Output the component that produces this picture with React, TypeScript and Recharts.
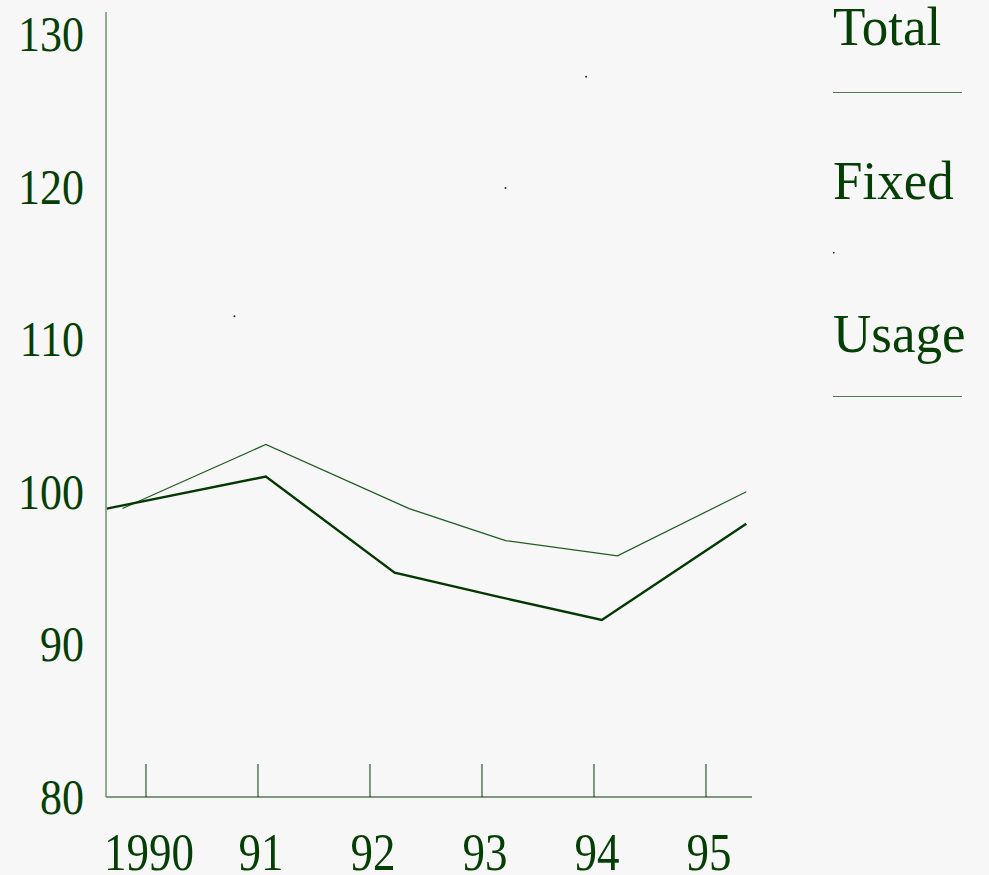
import { LineChart, Line, XAxis, YAxis, Legend } from "recharts";

// index values (1990 = 100), x in fractional years
const totalYears = [1989.79, 1991.07, 1992.35, 1993.21, 1994.21, 1995.36];
const totalValues = [98.9, 103.1, 98.9, 96.8, 95.8, 100.0];
const fixedYears = [1990.79, 1993.21, 1993.93];
const fixedValues = [111.5, 119.9, 127.2];
const usageYears = [1989.65, 1991.07, 1992.22, 1993.16, 1994.07, 1995.36];
const usageValues = [98.9, 101.0, 94.7, 93.1, 91.6, 97.9];

const yearTicks = [1990, 1991, 1992, 1993, 1994, 1995];
const valueTicks = [80, 90, 100, 110, 120, 130];
const seriesNames = ["Total", "Fixed", "Usage"];

const totalData = totalYears.map((year, i) => ({ year, value: totalValues[i] }));
const fixedData = fixedYears.map((year, i) => ({ year, value: fixedValues[i] }));
const usageData = usageYears.map((year, i) => ({ year, value: usageValues[i] }));

const INK = "#063f06";
const AXIS = "#6f936f";
const FONT = "'Liberation Serif', 'Times New Roman', serif";

function yearLabel(y: number) {
  return y === 1990 ? "1990" : String(y).slice(2);
}

function XTick({ x, y, payload }: any) {
  return (
    <g>
      <line x1={x} y1={y - 33} x2={x} y2={y} stroke={INK} strokeWidth={1} />
      <text
        transform={`translate(${x + 3}, ${y + 73}) scale(1, 1.15)`}
        textAnchor="middle"
        fontFamily={FONT}
        fontSize={45}
        fill={INK}
      >
        {yearLabel(payload.value)}
      </text>
    </g>
  );
}

function YTick({ x, y, payload }: any) {
  return (
    <text
      transform={`translate(${x}, ${y + 17}) scale(1, 1.15)`}
      textAnchor="end"
      fontFamily={FONT}
      fontSize={44}
      fill={INK}
    >
      {payload.value}
    </text>
  );
}

// legend: name on top, line sample underneath
function LegendBox() {
  const sampleY = [92.5, 252, 396.5];
  return (
    <svg width={156} height={420}>
      {seriesNames.map((name, i) => (
        <g key={name}>
          <text
            transform={`translate(0, ${45 + i * 153.5}) scale(1, 1.05)`}
            fontFamily={FONT}
            fontSize={53}
            fill={INK}
          >
            {name}
          </text>
          {name === "Fixed" ? (
            <rect x={0} y={sampleY[i]} width={1.5} height={1.5} fill={INK} />
          ) : (
            <line x1={0} y1={sampleY[i]} x2={129} y2={sampleY[i]} stroke="#4f7c4f" strokeWidth={1.2} />
          )}
        </g>
      ))}
    </svg>
  );
}

export default function App() {
  return (
    <div style={{ position: "absolute", left: 0, top: 0, width: 989, height: 875, background: "#f7f7f7" }}>
      <LineChart width={989} height={875} margin={{ top: 12, right: 81, bottom: 0, left: 0 }}>
        <XAxis
          type="number"
          dataKey="year"
          domain={[1989.643, 1995.411]}
          ticks={yearTicks}
          allowDataOverflow
          height={78}
          tickSize={0}
          tickMargin={0}
          tickLine={false}
          axisLine={{ stroke: INK, strokeWidth: 1 }}
          tick={<XTick />}
        />
        <YAxis
          type="number"
          domain={[80, 131.44]}
          ticks={valueTicks}
          allowDataOverflow
          width={106}
          tickSize={0}
          tickMargin={22}
          tickLine={false}
          axisLine={{ stroke: AXIS, strokeWidth: 1.5 }}
          tick={<YTick />}
        />
        <Legend
          layout="vertical"
          align="right"
          verticalAlign="top"
          content={<LegendBox />}
          wrapperStyle={{ width: 156, left: 833, top: 0, right: "auto" }}
        />
        <Line
          data={totalData}
          dataKey="value"
          name="Total"
          type="linear"
          stroke="#215a21"
          strokeWidth={1.2}
          dot={false}
          isAnimationActive={false}
        />
        <Line
          data={fixedData}
          dataKey="value"
          name="Fixed"
          type="linear"
          stroke="none"
          dot={{ r: 1, fill: INK, stroke: "none" }}
          isAnimationActive={false}
        />
        <Line
          data={usageData}
          dataKey="value"
          name="Usage"
          type="linear"
          stroke="#033803"
          strokeWidth={2.4}
          dot={false}
          isAnimationActive={false}
        />
      </LineChart>
    </div>
  );
}
